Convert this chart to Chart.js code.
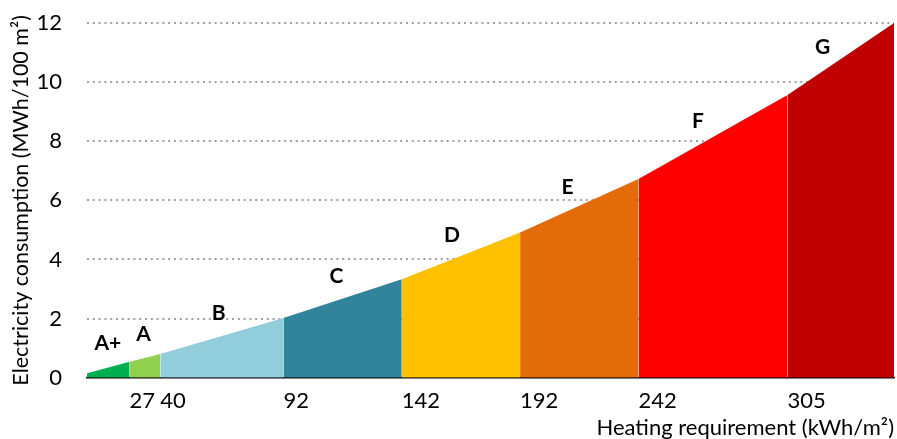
<!DOCTYPE html>
<html>
<head>
<meta charset="utf-8">
<script src="https://cdn.jsdelivr.net/npm/chart.js@4"></script>
<style>
  html, body { margin: 0; padding: 0; background: #fff; }
  #wrap { width: 897px; height: 439px; }
</style>
</head>
<body>
<div id="wrap"><canvas id="chart"></canvas></div>
<script>
// band edges (heating requirement, kWh/m²) and consumption at each edge (MWh/100 m²)
const edges = [9, 27, 40, 92, 142, 192, 242, 305, 350];
const consumption = [0.15, 0.54, 0.80, 2.02, 3.33, 4.91, 6.72, 9.56, 12.0];
const classes = ["A+", "A", "B", "C", "D", "E", "F", "G"];
const colors = ["#00b050", "#92d050", "#92cddc", "#31849b", "#ffc000", "#e36c09", "#ff0000", "#c00000"];
const xTicks = [27, 40, 92, 142, 192, 242, 305];
const yTicks = [0, 2, 4, 6, 8, 10, 12];

const FONT = "Lato, 'Open Sans', sans-serif";

// one filled dataset per energy class
const datasets = classes.map((c, i) => ({
    label: c,
    data: [
        {x: edges[i], y: consumption[i]},
        {x: edges[i + 1], y: consumption[i + 1]}
    ],
    backgroundColor: colors[i],
    borderColor: colors[i],
    borderWidth: 0,
    pointRadius: 0,
    tension: 0,
    fill: 'origin'
}));

// letters above each band
const classLabels = {
    id: 'classLabels',
    afterDatasetsDraw(chart) {
        const {ctx, chartArea, scales: {x, y}} = chart;
        ctx.save();
        ctx.font = "bold 21px " + FONT;
        ctx.fillStyle = "#000";
        ctx.textAlign = "center";
        ctx.textBaseline = "middle";
        classes.forEach((c, i) => {
            const x0 = x.getPixelForValue(edges[i]);
            const x1 = x.getPixelForValue(edges[i + 1]);
            let px = (x0 + x1) / 2;
            px -= (px - chartArea.left) * 0.024;
            const t = (px - x0) / (x1 - x0);
            const yv = consumption[i] + t * (consumption[i + 1] - consumption[i]);
            ctx.fillText(c, px, y.getPixelForValue(yv) - 24);
        });
        ctx.restore();
    }
};

new Chart('chart', {
    type: 'line',
    data: {datasets: datasets},
    options: {
        responsive: true,
        maintainAspectRatio: false,
        animation: false,
        layout: {padding: {left: 0, right: 3, top: 0, bottom: 0}},
        plugins: {legend: {display: false}, tooltip: {enabled: false}},
        scales: {
            x: {
                type: 'linear',
                min: edges[0],
                max: edges[edges.length - 1],
                afterBuildTicks: (axis) => { axis.ticks = xTicks.map(v => ({value: v})); },
                grid: {display: false, drawTicks: false},
                border: {display: true, color: '#000', width: 1.5},
                ticks: {
                    align: 'start',
                    autoSkip: false,
                    maxRotation: 0,
                    minRotation: 0,
                    padding: 10,
                    color: '#000',
                    font: {family: FONT, size: 22}
                },
                title: {
                    display: true,
                    text: 'Heating requirement (kWh/m²)',
                    align: 'end',
                    color: '#000',
                    padding: {top: -9.5, bottom: -2},
                    font: {family: FONT, size: 22}
                }
            },
            y: {
                min: 0,
                max: 12,
                afterBuildTicks: (axis) => { axis.ticks = yTicks.map(v => ({value: v})); },
                afterFit: (axis) => {
                    axis.width = 87;
                    axis.paddingTop = 23;
                    axis.paddingBottom = 13;
                },
                grid: {
                    color: (ctx) => ctx.tick && ctx.tick.value === 0 ? 'rgba(0,0,0,0)' : '#a0a0a0',
                    lineWidth: 2,
                    drawTicks: false
                },
                border: {display: false, dash: [2, 3.8]},
                ticks: {
                    padding: 25,
                    color: '#000',
                    font: {family: FONT, size: 22}
                },
                title: {
                    display: true,
                    text: 'Electricity consumption (MWh/100 m²)',
                    color: '#000',
                    padding: {top: 8, bottom: 0},
                    font: {family: FONT, size: 21.5}
                }
            }
        }
    },
    plugins: [classLabels]
});
</script>
</body>
</html>
